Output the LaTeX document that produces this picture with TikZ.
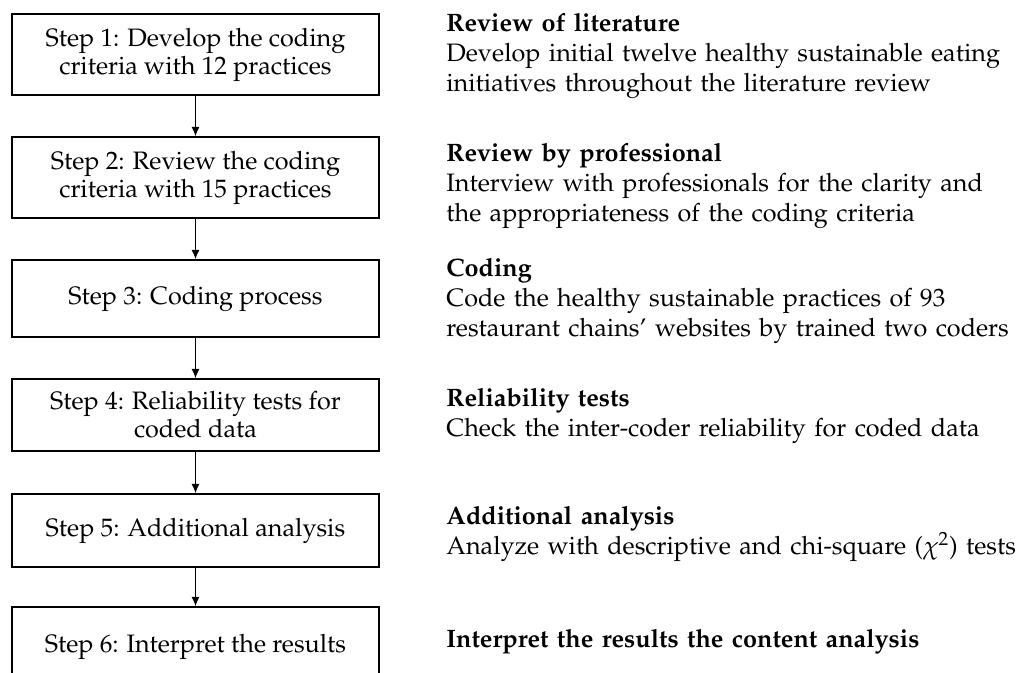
\documentclass[tikz,border=0pt]{standalone}
\usepackage[T1]{fontenc}
\usepackage{mathpazo}
\usetikzlibrary{arrows.meta}

\begin{document}
\begin{tikzpicture}[x=0.5pt,y=-0.5pt,
        stepbox/.style = {draw, line width=1pt, minimum width=183.5pt, inner sep=0pt, align=center, font=\fontsize{12.6}{14}\selectfont},
        desc/.style = {anchor=base west, inner sep=0pt, text width=300pt, align=left, font=\fontsize{12.6}{15}\selectfont},
        arr/.style = {-{Latex[length=4.5pt,width=4pt]}, line width=0.5pt}]
        \useasboundingbox (0,0) rectangle (1018,673);
        \clip (0,0) rectangle (1018,673);
        \node[stepbox,minimum height=40.5pt] (s1) at (195.5,54.5) {Step 1: Develop the coding\\criteria with 12 practices};
        \node[stepbox,minimum height=40.5pt] (s2) at (195.5,177.5) {Step 2: Review the coding\\criteria with 15 practices};
        \node[stepbox,minimum height=38.5pt] (s3) at (195.5,298.5) {Step 3: Coding process};
        \node[stepbox,minimum height=36pt] (s4) at (195.5,415) {Step 4: Reliability tests for\\coded data};
        \node[stepbox,minimum height=36.5pt] (s5) at (195.5,530.5) {Step 5: Additional analysis};
        \node[stepbox,minimum height=40pt] (s6) at (195.5,647) {Step 6: Interpret the results};
        \draw[arr] (s1.south) -- (s2.north);
        \draw[arr] (s2.south) -- (s3.north);
        \draw[arr] (s3.south) -- (s4.north);
        \draw[arr] (s4.south) -- (s5.north);
        \draw[arr] (s5.south) -- (s6.north);
        \node[desc] (d1) at (446,32) {\textbf{Review of literature}\\Develop initial twelve healthy sustainable eating\\initiatives throughout the literature review};
        \node[desc] (d2) at (446,162) {\textbf{Review by professional}\\Interview with professionals for the clarity and\\the appropriateness of the coding criteria};
        \node[desc] (d3) at (446,277) {\textbf{Coding}\\Code the healthy sustainable practices of 93\\restaurant chains' websites by trained two coders};
        \node[desc] (d4) at (446,407) {\textbf{Reliability tests}\\Check the inter-coder reliability for coded data};
        \node[desc] (d5) at (446,525) {\textbf{Additional analysis}\\Analyze with descriptive and chi-square ($\chi^2$) tests};
        \node[desc] (d6) at (446,647) {\textbf{Interpret the results the content analysis}};
    \end{tikzpicture}
\end{document}
